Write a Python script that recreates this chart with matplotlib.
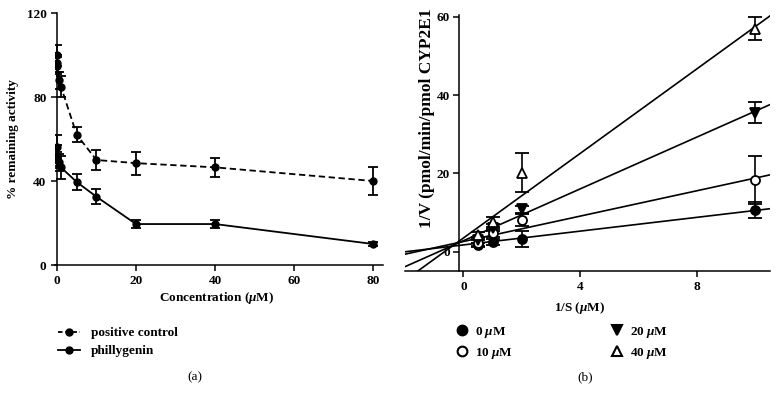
import numpy as np
import matplotlib
matplotlib.use("Agg")
import matplotlib.pyplot as plt
from matplotlib.lines import Line2D

plt.rcParams['font.family'] = ['Liberation Serif', 'DejaVu Serif']
plt.rcParams['mathtext.fontset'] = 'custom'
plt.rcParams['mathtext.rm'] = 'Liberation Serif:bold'
plt.rcParams['mathtext.it'] = 'Liberation Serif:italic:bold'
plt.rcParams['mathtext.bf'] = 'Liberation Serif:bold'

# ── panel (a): remaining activity vs concentration ──
conc = [0, 0.05, 0.1, 0.5, 1, 5, 10, 20, 40, 80]
pos_ctrl = [100, 96, 95, 88, 85, 62, 50, 48.5, 46.5, 40]
pos_ctrl_err = [5, 4, 4, 4, 5, 3.5, 4.8, 5.5, 4.5, 6.5]
phillygenin = [56, 52, 50, 49, 46.5, 39.5, 32.5, 19.5, 19.5, 10]
phillygenin_err = [6, 5, 4, 4, 5.5, 4, 3.5, 2, 2, 1]

# ── panel (b): Lineweaver-Burk ──
inv_s = [0.5, 1, 2, 10]
inhib_labels = [r'0 $\mu$M', r'10 $\mu$M', r'20 $\mu$M', r'40 $\mu$M']
inv_v = [
    [1.7, 2.5, 3.2, 10.6],
    [2.3, 4.7, 8.2, 18.3],
    [3.0, 6.2, 10.8, 35.5],
    [4.3, 7.6, 20.2, 57.0],
]
inv_v_err = [
    [0.6, 0.8, 2.0, 2.0],
    [0.8, 1.0, 1.5, 6.2],
    [0.8, 1.0, 0.8, 2.7],
    [0.8, 1.2, 5.0, 2.9],
]
fit_slope = [0.88, 1.62, 3.31, 5.40]
fit_icpt = [1.76, 2.63, 2.82, 3.52]

markers = ['o', 'o', 'v', '^']
faces = ['black', 'white', 'black', 'white']

W, H = 779, 403
fig = plt.figure(figsize=(W / 100, H / 100), dpi=100)

lw = 1.1
tick_kw = dict(labelsize=9.5, width=lw, length=4, direction='out')

# panel (a)
ax1 = fig.add_axes([55 / W, (H - 265) / H, 328 / W, 252 / H])
ax1.errorbar(conc, pos_ctrl, yerr=pos_ctrl_err, color='black', lw=1.3,
             dashes=(3.5, 2), marker='o', markersize=5, capsize=3.5,
             elinewidth=1.3, capthick=1.3, label='positive control')
ax1.errorbar(conc, phillygenin, yerr=phillygenin_err, color='black', lw=1.3,
             marker='o', markersize=5, capsize=3.5, elinewidth=1.3,
             capthick=1.3, label='phillygenin')
ax1.set_xlim(-0.5, 82.5)
ax1.set_ylim(0, 120)
ax1.set_xticks([0, 20, 40, 60, 80])
ax1.set_yticks([0, 40, 80, 120])
ax1.spines['left'].set_position(('data', 0))
for s in ['top', 'right']:
    ax1.spines[s].set_visible(False)
for s in ['left', 'bottom']:
    ax1.spines[s].set_linewidth(lw)
ax1.tick_params(**tick_kw)
for lab in ax1.get_xticklabels() + ax1.get_yticklabels():
    lab.set_fontweight('bold')
ax1.set_xlabel(r'Concentration ($\mu$M)', fontsize=9.5, fontweight='bold')
ax1.set_ylabel('% remaining activity', fontsize=9.5, fontweight='bold')
ax1.xaxis.set_label_coords(0.494, -0.10)
ax1.yaxis.set_label_coords(-0.11, 0.5)

leg_a = [
    Line2D([], [], color='black', lw=1.3, dashes=(2.5, 1.5), marker='o', markersize=5),
    Line2D([], [], color='black', lw=1.3, marker='o', markersize=5),
]
fig.legend(leg_a, ['positive control', 'phillygenin'], loc='upper left',
           bbox_to_anchor=(58 / W, 1 - 327 / H), frameon=False, borderpad=0,
           borderaxespad=0, handlelength=1.7, handletextpad=0.8,
           labelspacing=0.45, prop=dict(size=9.5, weight='bold'))

# panel (b)
ax2 = fig.add_axes([405 / W, (H - 271) / H, 365 / W, 256.2 / H])
xs = np.array([-2.0, 10.5])
for k in range(4):
    ax2.plot(xs, fit_slope[k] * xs + fit_icpt[k], color='black', lw=1.2)
for k in range(4):
    ax2.errorbar(inv_s, inv_v[k], yerr=inv_v_err[k], fmt=markers[k],
                 color='black', mfc=faces[k], mec='black', mew=1.3,
                 markersize=6.5, capsize=5, elinewidth=1.2, capthick=1.2)
ax2.set_xlim(-2.0, 10.5)
ax2.set_ylim(-4.9, 60.5)
ax2.set_xticks([0, 4, 8])
ax2.set_yticks([0, 20, 40, 60])
ax2.spines['left'].set_position(('data', -0.16))
for s in ['top', 'right']:
    ax2.spines[s].set_visible(False)
for s in ['left', 'bottom']:
    ax2.spines[s].set_linewidth(lw)
ax2.tick_params(**tick_kw)
ax2.tick_params(axis='y', pad=2.5)
for lab in ax2.get_xticklabels() + ax2.get_yticklabels():
    lab.set_fontweight('bold')
ax2.set_xlabel(r'1/S ($\mu$M)', fontsize=9.5, fontweight='bold')
ax2.set_ylabel('1/V (pmol/min/pmol CYP2E1', fontsize=12.5, fontweight='bold')
ax2.xaxis.set_label_coords(0.479, -0.112)
ax2.yaxis.set_label_coords(0.082, 0.597)

handles_b = [Line2D([], [], ls='none', marker=markers[k], markersize=7,
                    mfc=faces[k], mec='black', mew=1.5) for k in range(4)]
for cols, x0 in (((0, 1), 455), ((2, 3), 610)):
    fig.legend([handles_b[c] for c in cols], [inhib_labels[c] for c in cols],
               loc='upper left', bbox_to_anchor=(x0 / W, 1 - 325 / H),
               frameon=False, borderpad=0, borderaxespad=0, handlelength=1.0,
               handletextpad=0.5, labelspacing=0.45,
               prop=dict(size=9.5, weight='bold'))

fig.text(195 / W, 1 - 377 / H, '(a)', ha='center', va='center', fontsize=9.5)
fig.text(585 / W, 1 - 377 / H, '(b)', ha='center', va='center', fontsize=9.5)

fig.savefig('out.png', dpi=100)
